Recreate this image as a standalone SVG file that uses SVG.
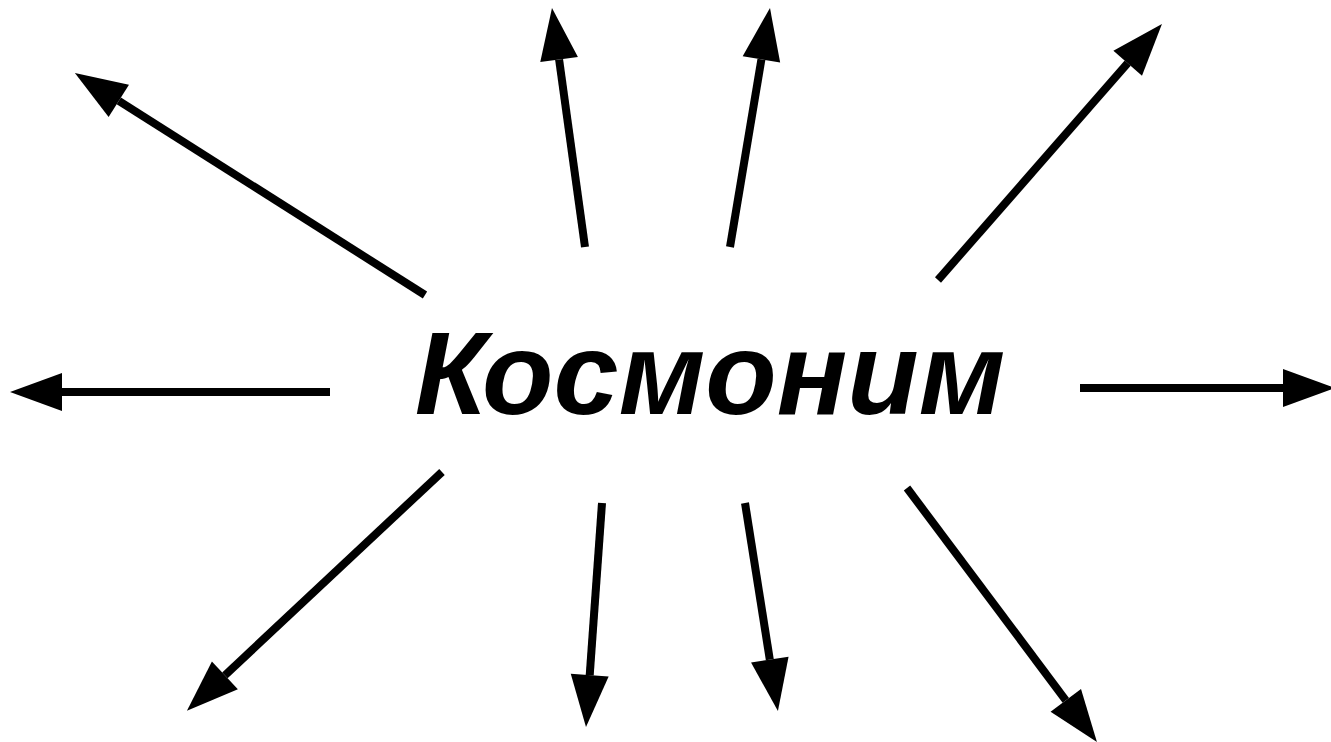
<svg xmlns="http://www.w3.org/2000/svg" width="1331" height="742" viewBox="0 0 1331 742">
<style>
.c{stroke:#000;stroke-width:8;fill:none;marker-end:url(#ah)}
.t{font-family:"Liberation Sans",Arial,sans-serif;font-weight:bold;font-style:italic;font-size:117px;fill:#000}
</style>
<defs>
<marker id="ah" markerUnits="userSpaceOnUse" markerWidth="60" markerHeight="44" viewBox="0 -22 60 44" refX="0" refY="0" orient="auto" overflow="visible">
<path d="M0,-19 L52,0 L0,19 Z" fill="#000"/>
</marker>
</defs>
<rect width="1331" height="742" fill="#fff"/>
<g id="connectors">
<line class="c" x1="425" y1="295" x2="118.8" y2="100.9"/>
<line class="c" x1="585" y1="247" x2="559.1" y2="59.5"/>
<line class="c" x1="730" y1="247" x2="761.4" y2="59.3"/>
<line class="c" x1="938" y1="280" x2="1127.7" y2="63.2"/>
<line class="c" x1="330" y1="392" x2="62" y2="392"/>
<line class="c" x1="1080" y1="388" x2="1283" y2="388"/>
<line class="c" x1="442" y1="472" x2="224.9" y2="675.3"/>
<line class="c" x1="602" y1="503" x2="589.7" y2="675.2"/>
<line class="c" x1="745" y1="503" x2="769.8" y2="659.6"/>
<line class="c" x1="907" y1="488" x2="1065.8" y2="700.3"/>
</g>
<g id="node-kosmonim">
<text class="t" x="710" y="414" text-anchor="middle">Космоним</text>
</g>
</svg>
